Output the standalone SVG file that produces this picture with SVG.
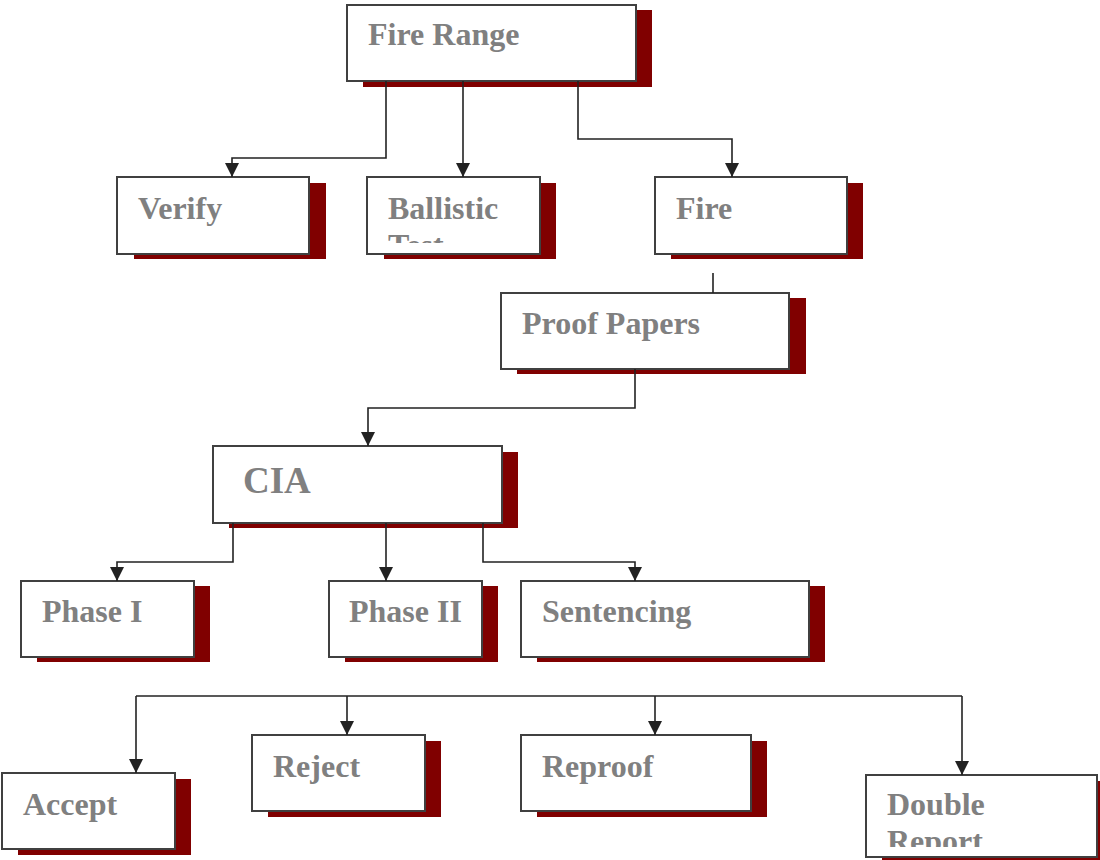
<svg xmlns="http://www.w3.org/2000/svg" width="1100" height="860" viewBox="0 0 1100 860">
  <style>
    .shadow { fill: #800000; }
    .box { fill: #ffffff; stroke: #404040; stroke-width: 2; }
    .label { font-family: "Liberation Serif", "Times New Roman", serif; font-weight: bold; font-size: 32px; fill: #808080; }
    .big { font-size: 37px; }
    .wire { fill: none; stroke: #222222; stroke-width: 1.6; }
    .arrow { fill: none; stroke: #222222; stroke-width: 1.6; marker-end: url(#head); }
  </style>
  <defs>
    <marker id="head" viewBox="0 0 10 10" refX="10" refY="5" markerWidth="14" markerHeight="14" markerUnits="userSpaceOnUse" orient="auto">
      <path d="M0,0 L10,5 L0,10 z" fill="#222222"/>
    </marker>
    <clipPath id="clipBallistic"><rect x="368" y="178" width="171" height="65"/></clipPath>
    <clipPath id="clipDouble"><rect x="867" y="776" width="229" height="71"/></clipPath>
  </defs>

  <rect width="1100" height="860" fill="#ffffff"/>

  <g id="fire-range">
    <rect class="shadow" x="363" y="10" width="289" height="77"/>
    <rect class="box" x="347" y="5" width="289" height="76"/>
    <text class="label" x="368" y="45">Fire Range</text>
  </g>

  <g id="verify">
    <rect class="shadow" x="134" y="183" width="192" height="76"/>
    <rect class="box" x="117" y="177" width="192" height="77"/>
    <text class="label" x="138" y="219">Verify</text>
  </g>

  <g id="ballistic-test">
    <rect class="shadow" x="384" y="183" width="172" height="76"/>
    <rect class="box" x="367" y="177" width="173" height="77"/>
    <text class="label" x="388" y="219" clip-path="url(#clipBallistic)">Ballistic<tspan x="388" dy="37">Test</tspan></text>
  </g>

  <g id="fire">
    <rect class="shadow" x="671" y="183" width="192" height="76"/>
    <rect class="box" x="655" y="177" width="192" height="77"/>
    <text class="label" x="676" y="219">Fire</text>
  </g>

  <g id="proof-papers">
    <rect class="shadow" x="517" y="298" width="289" height="76"/>
    <rect class="box" x="501" y="293" width="288" height="76"/>
    <text class="label" x="522" y="334">Proof Papers</text>
  </g>

  <g id="cia">
    <rect class="shadow" x="229" y="452" width="289" height="76"/>
    <rect class="box" x="213" y="446" width="289" height="77"/>
    <text class="label big" x="243" y="493">CIA</text>
  </g>

  <g id="phase-1">
    <rect class="shadow" x="37" y="586" width="173" height="76"/>
    <rect class="box" x="21" y="581" width="173" height="76"/>
    <text class="label" x="42" y="622">Phase I</text>
  </g>

  <g id="phase-2">
    <rect class="shadow" x="345" y="586" width="153" height="76"/>
    <rect class="box" x="329" y="581" width="153" height="76"/>
    <text class="label" x="349" y="622">Phase II</text>
  </g>

  <g id="sentencing">
    <rect class="shadow" x="537" y="586" width="288" height="76"/>
    <rect class="box" x="521" y="581" width="288" height="76"/>
    <text class="label" x="542" y="622">Sentencing</text>
  </g>

  <g id="accept">
    <rect class="shadow" x="18" y="779" width="173" height="76"/>
    <rect class="box" x="2" y="773" width="173" height="76"/>
    <text class="label" x="23" y="815">Accept</text>
  </g>

  <g id="reject">
    <rect class="shadow" x="268" y="741" width="173" height="76"/>
    <rect class="box" x="252" y="735" width="173" height="76"/>
    <text class="label" x="273" y="777">Reject</text>
  </g>

  <g id="reproof">
    <rect class="shadow" x="537" y="741" width="230" height="76"/>
    <rect class="box" x="521" y="735" width="230" height="76"/>
    <text class="label" x="542" y="777">Reproof</text>
  </g>

  <g id="double-report">
    <rect class="shadow" x="882" y="781" width="230" height="82"/>
    <rect class="box" x="866" y="775" width="231" height="82"/>
    <text class="label" x="887" y="815" clip-path="url(#clipDouble)">Double<tspan x="887" dy="37">Report</tspan></text>
  </g>

  <g id="connectors">
    <!-- Fire Range fan-out -->
    <path class="arrow" d="M386,81 V158 H232 V177"/>
    <path class="arrow" d="M463,81 V177"/>
    <path class="arrow" d="M578,81 V139 H732 V177"/>
    <!-- Fire to Proof Papers -->
    <path class="wire" d="M713,273 V293"/>
    <!-- Proof Papers to CIA -->
    <path class="arrow" d="M635,369 V408 H368 V446"/>
    <!-- CIA fan-out -->
    <path class="arrow" d="M233,523 V562 H117 V581"/>
    <path class="arrow" d="M386,523 V581"/>
    <path class="arrow" d="M483,523 V562 H635 V581"/>
    <!-- outcome bus -->
    <path class="wire" d="M136,696 H962"/>
    <path class="arrow" d="M136,696 V773"/>
    <path class="arrow" d="M347,696 V735"/>
    <path class="arrow" d="M655,696 V735"/>
    <path class="arrow" d="M962,696 V775"/>
  </g>
</svg>
